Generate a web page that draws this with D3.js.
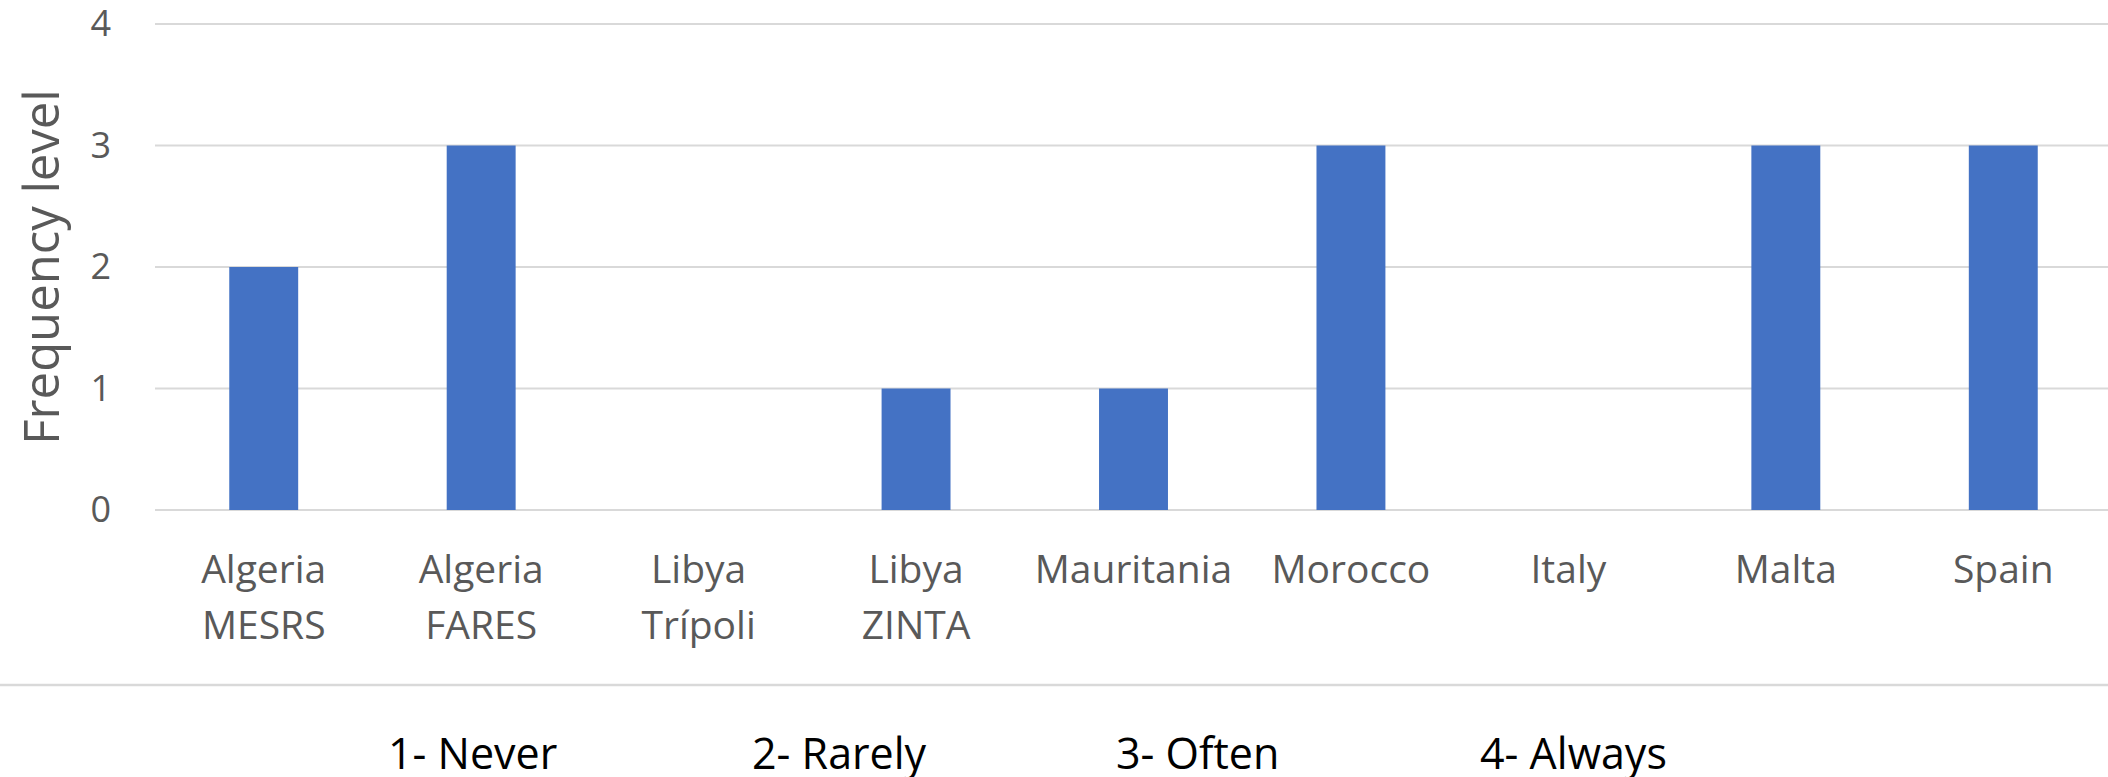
<!DOCTYPE html>
<html>
<head>
<meta charset="utf-8">
<script src="https://cdn.jsdelivr.net/npm/d3@7"></script>
<style>
  html, body { margin: 0; padding: 0; background: #fff; }
  svg { display: block; font-family: "Open Sans", sans-serif; }
</style>
</head>
<body>
<svg id="chart" width="2108" height="777"></svg>
<script>
// categories (two lines each) and frequency values
const categories = [
  ["Algeria", "MESRS"],
  ["Algeria", "FARES"],
  ["Libya", "Trípoli"],
  ["Libya", "ZINTA"],
  ["Mauritania"],
  ["Morocco"],
  ["Italy"],
  ["Malta"],
  ["Spain"]
];
const values = [2, 3, 0, 1, 1, 3, 0, 3, 3];
const yTicks = [0, 1, 2, 3, 4];
const scaleLabels = ["1- Never", "2- Rarely", "3- Often", "4- Always"];

const width = 2108, height = 777;
const svg = d3.select("#chart");

const x = d3.scaleBand()
  .domain(d3.range(categories.length))
  .range([155, 2112])
  .paddingInner(0.683)
  .paddingOuter(0.3415);

const y = d3.scaleLinear()
  .domain([0, 4])
  .range([510, 24]);

// gridlines
svg.append("g")
  .selectAll("line")
  .data(yTicks)
  .join("line")
  .attr("x1", 155)
  .attr("x2", width)
  .attr("y1", d => y(d))
  .attr("y2", d => y(d))
  .attr("stroke", "#d9d9d9")
  .attr("stroke-width", 2);

// y axis labels
const yAxis = svg.append("g")
  .attr("transform", "translate(111,0)")
  .call(d3.axisLeft(y).tickValues(yTicks).tickSize(0).tickPadding(0).tickFormat(d3.format("d")));
yAxis.select(".domain").remove();
yAxis.selectAll("text")
  .attr("fill", "#595959")
  .style("font-size", "36px")
  .style("font-family", "'Open Sans', sans-serif");

// bars
svg.append("g")
  .selectAll("rect")
  .data(values)
  .join("rect")
  .attr("x", (d, i) => x(i))
  .attr("width", x.bandwidth())
  .attr("y", d => y(d))
  .attr("height", d => y(0) - y(d))
  .attr("fill", "#4472C4");

// x category labels
const xLabels = svg.append("g")
  .selectAll("text")
  .data(categories)
  .join("text")
  .attr("x", (d, i) => x(i) + x.bandwidth() / 2)
  .attr("y", 583)
  .attr("text-anchor", "middle")
  .attr("fill", "#595959")
  .style("font-size", "39px");

xLabels.selectAll("tspan")
  .data(d => d)
  .join("tspan")
  .attr("x", function() { return d3.select(this.parentNode).attr("x"); })
  .attr("dy", (d, i) => i === 0 ? 0 : 56)
  .text(d => d);

// y axis title
svg.append("text")
  .attr("transform", "translate(59,267) rotate(-90)")
  .attr("text-anchor", "middle")
  .attr("fill", "#595959")
  .style("font-size", "49px")
  .text("Frequency level");

// separator line under the chart
svg.append("line")
  .attr("x1", 0)
  .attr("x2", width)
  .attr("y1", 685)
  .attr("y2", 685)
  .attr("stroke", "#d9d9d9")
  .attr("stroke-width", 2.5);

// frequency scale key
const keyX = d3.scalePoint()
  .domain(scaleLabels)
  .range([388, 1480]);

svg.append("g")
  .selectAll("text")
  .data(scaleLabels)
  .join("text")
  .attr("x", d => keyX(d))
  .attr("y", 769)
  .attr("fill", "#000")
  .style("font-size", "43px")
  .text(d => d);
</script>
</body>
</html>
